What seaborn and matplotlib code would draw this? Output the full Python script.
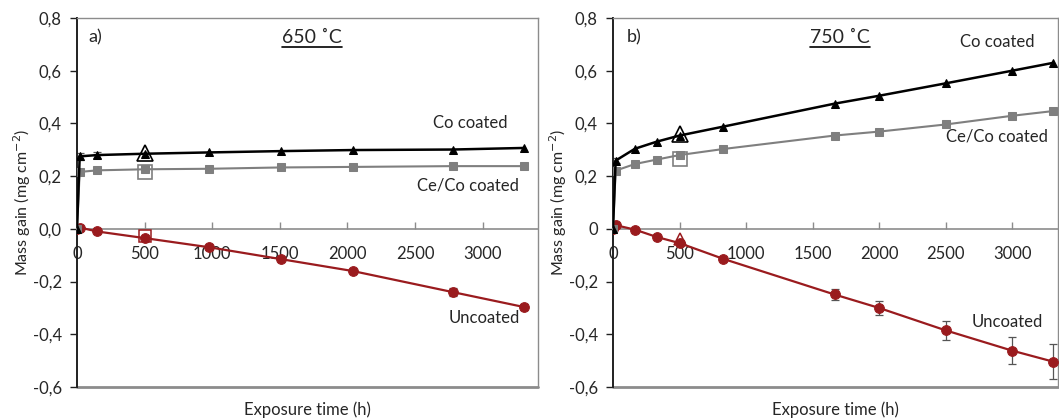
import numpy as np
import pandas as pd
import matplotlib
matplotlib.use('Agg')
import matplotlib.pyplot as plt
import seaborn as sns
from matplotlib.lines import Line2D

# ---- 650 C panel ----
time_650 = [0, 20, 150, 500, 980, 1510, 2040, 2780, 3310]
co_650 = [0, 0.275, 0.280, 0.285, 0.290, 0.295, 0.299, 0.301, 0.307]
co_650_err = [0, 0.012, 0.010, 0, 0, 0, 0, 0, 0]
ceco_650 = [0, 0.216, 0.222, 0.226, 0.228, 0.233, 0.235, 0.238, 0.238]
unc_650 = [0, 0.005, -0.010, -0.035, -0.070, -0.115, -0.160, -0.240, -0.297]
unc_650_err = [0, 0, 0, 0, 0, 0, 0, 0.015, 0.012]

# ---- 750 C panel ----
time_750 = [0, 20, 165, 330, 500, 830, 1665, 2000, 2500, 3000, 3310]
co_750 = [0, 0.259, 0.304, 0.331, 0.354, 0.388, 0.475, 0.505, 0.552, 0.600, 0.630]
co_750_err = [0, 0.008, 0, 0, 0, 0, 0, 0, 0, 0, 0]
ceco_750 = [0, 0.221, 0.246, 0.263, 0.280, 0.303, 0.354, 0.369, 0.396, 0.429, 0.447]
unc_750 = [0, 0.014, -0.003, -0.031, -0.054, -0.114, -0.249, -0.300, -0.385, -0.462, -0.504]
unc_750_err = [0, 0, 0, 0, 0, 0, 0.022, 0.025, 0.037, 0.051, 0.067]

# single measurements at 500 h (open markers), [650, 750]
open_time = [500, 500]
open_co = [0.287, 0.360]
open_ceco = [0.214, 0.265]
open_unc = [-0.027, -0.040]
open_unc_marker = ['s', '^']

panel_tags = ['a)', 'b)']
panel_temps = ['650 ˚C', '750 ˚C']
ytick_vals = [-0.6, -0.4, -0.2, 0.0, 0.2, 0.4, 0.6, 0.8]
xtick_vals = [0, 500, 1000, 1500, 2000, 2500, 3000]

BLACK = '#000000'
GREY = '#7f7f7f'
RED = '#9a1b1e'
FRAME = '#8c8c8c'

sns.set_style('white')
plt.rcParams['font.family'] = ['Lato', 'DejaVu Sans']

fig = plt.figure(figsize=(10.59, 4.2), dpi=100)
ax1 = fig.add_axes([77 / 1059, 33 / 420, 461 / 1059, 369 / 420])
ax2 = fig.add_axes([613 / 1059, 33 / 420, 445 / 1059, 369 / 420])

panels = [
    (ax1, time_650, co_650, co_650_err, ceco_650, unc_650, unc_650_err, 3410),
    (ax2, time_750, co_750, co_750_err, ceco_750, unc_750, unc_750_err, 3345),
]

label_pos = [
    {'co': (2910, 0.40), 'ceco': (2895, 0.165), 'unc': (3010, -0.34)},
    {'co': (2885, 0.71), 'ceco': (2885, 0.35), 'unc': (2960, -0.355)},
]
tag_x = [0.024, 0.031]

for i, (ax, t, co, co_err, ceco, unc, unc_err, xmax) in enumerate(panels):
    df = pd.DataFrame({'time': t, 'co': co, 'ceco': ceco, 'unc': unc})

    sns.lineplot(data=df, x='time', y='unc', ax=ax, color=RED, marker='o',
                 markersize=7, markeredgecolor=RED, linewidth=1.6, zorder=3)
    sns.lineplot(data=df, x='time', y='ceco', ax=ax, color=GREY, marker='s',
                 markersize=6, markeredgecolor=GREY, linewidth=1.5, zorder=3)
    sns.lineplot(data=df, x='time', y='co', ax=ax, color=BLACK, marker='^',
                 markersize=5.8, markeredgecolor=BLACK, linewidth=1.8, zorder=4)

    for y, err in [(co, co_err), (unc, unc_err)]:
        idx = [k for k, e in enumerate(err) if e > 0]
        ax.errorbar([t[k] for k in idx], [y[k] for k in idx],
                    yerr=[err[k] for k in idx], fmt='none', ecolor='#555555',
                    elinewidth=0.9, capsize=3, capthick=0.9, zorder=2)

    # open markers for the separate 500 h samples
    ax.plot(open_time[i], open_co[i], marker='^', markersize=12,
            markerfacecolor='none', markeredgecolor=BLACK, markeredgewidth=1.2,
            linestyle='none', zorder=5)
    ax.plot(open_time[i], open_ceco[i], marker='s', markersize=9.5,
            markerfacecolor='none', markeredgecolor=GREY, markeredgewidth=1.2,
            linestyle='none', zorder=5)
    ax.plot(open_time[i], open_unc[i], marker=open_unc_marker[i], markersize=8.5,
            markerfacecolor='none', markeredgecolor=RED, markeredgewidth=1.1,
            linestyle='none', zorder=5)

    ax.set_xlim(0, xmax)
    ax.set_ylim(-0.6, 0.8)
    ax.set_xticks(xtick_vals)
    ax.set_yticks(ytick_vals)
    ylabels = [f'{v:.1f}'.replace('.', ',') for v in ytick_vals]
    if i == 1:
        ylabels = ['0' if v == 0 else s for v, s in zip(ytick_vals, ylabels)]
    ax.set_yticklabels(ylabels)
    ax.set_xticklabels([str(v) for v in xtick_vals])

    # Excel-like axes: x axis crosses at zero, plot area boxed in grey
    ax.spines['bottom'].set_position(('data', 0))
    ax.spines['bottom'].set_color(FRAME)
    ax.spines['bottom'].set_linewidth(1.2)
    ax.spines['left'].set_color('#202020')
    ax.spines['left'].set_linewidth(1.4)
    for s in ['top', 'right']:
        ax.spines[s].set_color(FRAME)
        ax.spines[s].set_linewidth(1.0)
    ax.axhline(-0.6, color=FRAME, linewidth=2.0, clip_on=False, zorder=1)

    ax.tick_params(axis='x', direction='in', length=5, width=1, color=FRAME,
                   pad=12, labelsize=12, bottom=True)
    ax.tick_params(axis='y', direction='out', length=5, width=1, color='#202020',
                   pad=6, labelsize=12, left=True)

    ax.set_xlabel('')
    ax.set_ylabel('Mass gain (mg cm$^{-2}$)', fontsize=11.5, labelpad=0)
    ax.text(0.5, -0.062, 'Exposure time (h)', transform=ax.transAxes,
            ha='center', va='center', fontsize=12)

    ax.text(tag_x[i], 0.948, panel_tags[i], transform=ax.transAxes,
            fontsize=13, ha='left', va='center')
    temp = ax.text(0.51, 0.948, panel_temps[i], transform=ax.transAxes,
                   fontsize=14, ha='center', va='center')
    temp.set_gid('temp%d' % i)

    lp = label_pos[i]
    ax.text(*lp['co'], 'Co coated', fontsize=12, ha='center', va='center')
    ax.text(*lp['ceco'], 'Ce/Co coated', fontsize=12, ha='center', va='center')
    ax.text(*lp['unc'], 'Uncoated', fontsize=12, ha='center', va='center')

# underline the temperature titles
fig.canvas.draw()
renderer = fig.canvas.get_renderer()
for ax in [ax1, ax2]:
    for txt in ax.texts:
        if txt.get_gid() and txt.get_gid().startswith('temp'):
            bb = txt.get_window_extent(renderer).transformed(fig.transFigure.inverted())
            fig.add_artist(Line2D([bb.x0, bb.x1], [bb.y0 - 0.004, bb.y0 - 0.004],
                                  color='black', linewidth=1.2,
                                  transform=fig.transFigure))

fig.savefig('out.png', dpi=100)
